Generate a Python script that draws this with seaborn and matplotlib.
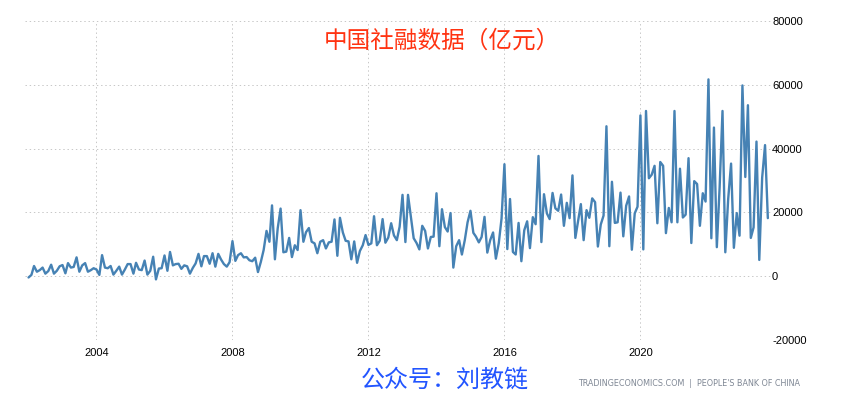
import numpy as np
import pandas as pd
import matplotlib
matplotlib.use('Agg')
import matplotlib.pyplot as plt
import matplotlib.dates as mdates
import seaborn as sns

# monthly values, 亿元
y2002 = [-400, 400, 3200, 1400, 1900, 2700, 800, 1600, 3600, 800, 1700, 3100]
y2003 = [3500, 900, 4100, 2700, 2900, 5900, 1400, 3400, 4100, 1400, 1900, 2500]
y2004 = [2100, 400, 6600, 2700, 2500, 3200, 500, 1700, 3000, 500, 2100, 3800]
y2005 = [3800, 800, 4200, 2100, 1900, 4900, 500, 1700, 6100, -1000, 2400, 2500]
y2006 = [6500, 1700, 7600, 3400, 3800, 3900, 2300, 3400, 3100, 800, 2600, 4000]
y2007 = [7000, 3100, 6300, 6300, 3900, 7200, 3000, 7000, 5200, 3800, 3000, 4400]
y2008 = [11000, 4800, 6600, 7200, 5900, 6000, 5000, 4700, 5800, 1300, 4500, 8200]
y2009 = [14200, 10800, 22200, 5300, 15000, 21200, 7500, 7700, 12000, 6000, 9700, 8200]
y2010 = [20700, 10800, 13800, 15100, 10800, 10300, 7200, 10800, 11300, 8700, 10600, 10800]
y2011 = [17800, 6400, 18300, 13700, 11100, 10900, 5300, 10900, 4200, 7900, 9700, 12900]
y2012 = [9800, 10300, 18800, 9700, 11100, 17900, 10500, 12100, 16600, 12800, 11300, 15500]
y2013 = [25500, 10700, 25500, 18500, 11900, 10400, 8400, 15800, 14200, 8700, 12300, 12400]
y2014 = [26000, 9400, 21000, 15400, 14000, 19800, 2700, 9400, 11300, 6800, 11300, 16900]
y2015 = [20500, 13600, 12400, 10600, 12300, 18600, 7400, 11300, 13700, 5500, 10300, 18100]
y2016 = [35100, 8500, 24200, 7600, 6800, 16700, 4700, 14400, 17200, 8800, 18500, 16300]
y2017 = [37700, 10700, 25700, 19700, 17900, 26100, 21300, 20500, 25600, 15800, 23000, 18200]
y2018 = [31600, 12000, 17000, 22600, 11300, 20700, 18300, 24400, 23200, 9300, 16200, 19000]
y2019 = [47000, 9400, 29600, 16700, 16900, 26200, 12500, 22100, 25000, 8300, 19700, 21800]
y2020 = [50400, 8400, 51800, 30700, 31800, 34600, 16600, 35800, 34600, 13500, 21400, 16900]
y2021 = [51800, 16900, 33700, 18400, 19300, 37000, 10400, 29800, 28900, 15800, 26000, 23400]
y2022 = [61700, 11900, 46600, 9100, 27800, 51800, 7500, 24200, 35300, 8900, 19800, 12700]
y2023 = [59800, 31100, 53600, 12000, 15300, 42200, 5100, 30900, 41100, 18200]

values = (y2002 + y2003 + y2004 + y2005 + y2006 + y2007 + y2008 + y2009 + y2010 + y2011 + y2012
          + y2013 + y2014 + y2015 + y2016 + y2017 + y2018 + y2019 + y2020 + y2021 + y2022 + y2023)
months = pd.date_range('2002-01-01', periods=len(values), freq='MS')
df = pd.DataFrame({'month': months, 'value': values})

year_ticks = ['2004', '2008', '2012', '2016', '2020']
value_ticks = [-20000, 0, 20000, 40000, 60000, 80000]

sns.set_style('white')
plt.rcParams['font.family'] = ['Liberation Sans', 'Noto Sans CJK SC', 'DejaVu Sans']
plt.rcParams['axes.unicode_minus'] = False

W, H = 850, 400
fig = plt.figure(figsize=(W / 100, H / 100), dpi=100)
# plot box in pixels: left 25, right 771, top 21, bottom 340
ax = fig.add_axes([25 / W, 1 - 340 / H, 746 / W, 319 / H])

sns.lineplot(data=df, x='month', y='value', color='#4682B4', linewidth=1.7, ax=ax, zorder=3)

ax.set_ylim(-20000, 80000)
ax.set_xlim(pd.Timestamp('2001-11-24'), pd.Timestamp('2023-11-04'))
ax.set_xticks([pd.Timestamp(y + '-01-01') for y in year_ticks])
ax.xaxis.set_major_formatter(mdates.DateFormatter('%Y'))
ax.set_yticks(value_ticks)
ax.yaxis.tick_right()
ax.set_xlabel('')
ax.set_ylabel('')
ax.grid(True, color='#c8c8c8', linestyle=(0, (1.4, 2.8)), linewidth=0.72)
ax.set_axisbelow(True)
sns.despine(ax=ax, left=True, bottom=True, right=True, top=True)
ax.tick_params(axis='x', length=0, pad=6, labelsize=8, labelcolor='black')
ax.tick_params(axis='y', length=0, pad=0.8, labelsize=8, labelcolor='black')

fig.text(324 / W, 1 - 41 / H, '中国社融数据（亿元）', color='#FF3311', fontsize=17,
         ha='left', va='center', family=['Noto Sans CJK SC', 'DejaVu Sans'])
fig.text(444.5 / W, 1 - 380 / H, '公众号：刘教链', color='#2255FF', fontsize=17.3,
         ha='center', va='center', family=['Noto Sans CJK SC', 'DejaVu Sans'])
fig.text(800 / W, 1 - 383 / H, "TRADINGECONOMICS.COM  |  PEOPLE'S BANK OF CHINA", color='#7f8794',
         fontsize=5.75, ha='right', va='center', family='DejaVu Sans')

fig.savefig('out.png', dpi=100)
